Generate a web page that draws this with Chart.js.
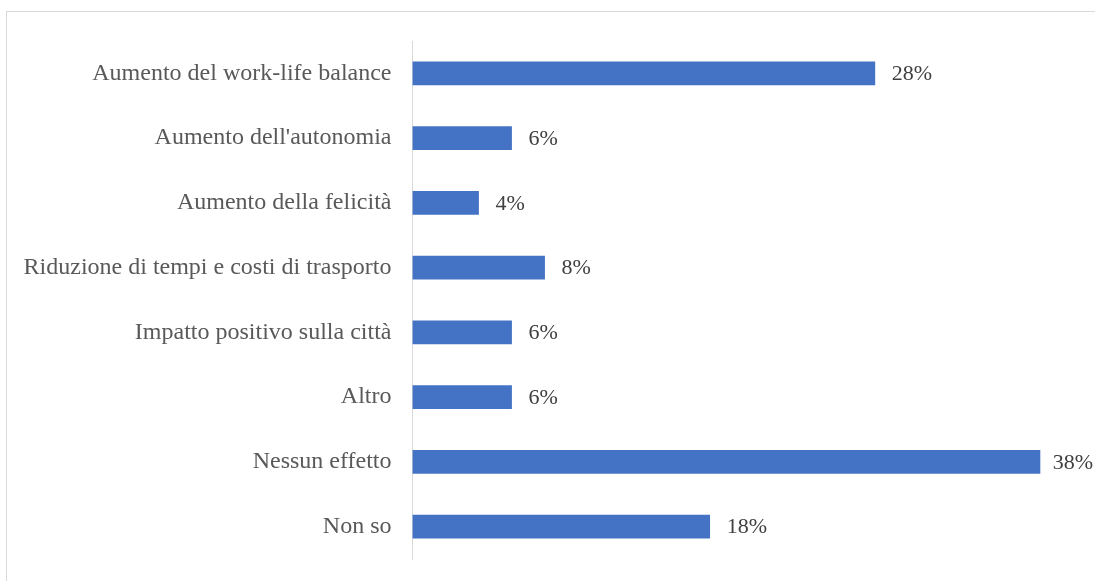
<!DOCTYPE html>
<html>
<head>
<meta charset="utf-8">
<script src="https://cdn.jsdelivr.net/npm/chart.js@4/dist/chart.umd.min.js"></script>
<style>
    html, body { margin: 0; padding: 0; background: #fff; overflow: hidden; }
    #frame {
        position: absolute; left: 6px; top: 11px;
        width: 1100px; height: 600px;
        border: 1px solid #d9d9d9;
        box-sizing: border-box;
    }
    #wrap { position: absolute; left: 0; top: 0; width: 1095px; height: 581px; }
</style>
</head>
<body>
<div id="frame"></div>
<div id="wrap"><canvas id="effectsChart" width="1095" height="581"></canvas></div>
<script>
// Effetti percepiti (risposte in %)
const categories = [
    'Aumento del work-life balance',
    "Aumento dell'autonomia",
    'Aumento della felicità',
    'Riduzione di tempi e costi di trasporto',
    'Impatto positivo sulla città',
    'Altro',
    'Nessun effetto',
    'Non so'
];
const percentages = [28, 6, 4, 8, 6, 6, 38, 18];

// Draw the "NN%" label just after the end of each bar,
// pulled back a little when it would run off the canvas
const valueLabels = {
    id: 'valueLabels',
    afterDatasetsDraw(chart) {
        const ctx = chart.ctx;
        const meta = chart.getDatasetMeta(0);
        ctx.save();
        ctx.font = '22px "Liberation Serif", "Times New Roman", serif';
        ctx.fillStyle = '#404040';
        ctx.textAlign = 'left';
        ctx.textBaseline = 'middle';
        meta.data.forEach((bar, i) => {
            const text = percentages[i] + '%';
            const w = ctx.measureText(text).width;
            const x = Math.min(bar.x + 17, chart.width - w - 2);
            ctx.fillText(text, x, bar.y + 1);
        });
        ctx.restore();
    }
};

const ctx = document.getElementById('effectsChart').getContext('2d');
new Chart(ctx, {
    type: 'bar',
    data: {
        labels: categories,
        datasets: [{
            data: percentages,
            backgroundColor: '#4472C4',
            borderWidth: 0,
            barThickness: 23
        }]
    },
    options: {
        indexAxis: 'y',
        responsive: false,
        animation: false,
        layout: {
            padding: { left: 0, top: 41, right: 22, bottom: 22 }
        },
        plugins: {
            legend: { display: false },
            tooltip: { enabled: false }
        },
        scales: {
            x: {
                display: false,
                min: 0,
                max: 40
            },
            y: {
                afterFit(scale) {
                    scale.width = 412.5;
                    scale.paddingTop = 0;
                    scale.paddingBottom = 0;
                },
                grid: { display: false, drawTicks: false },
                border: { display: true, color: '#d9d9d9', width: 1 },
                ticks: {
                    padding: 21,
                    color: '#595959',
                    font: { family: '"Liberation Serif", "Times New Roman", serif', size: 24 }
                }
            }
        }
    },
    plugins: [valueLabels]
});
</script>
</body>
</html>
